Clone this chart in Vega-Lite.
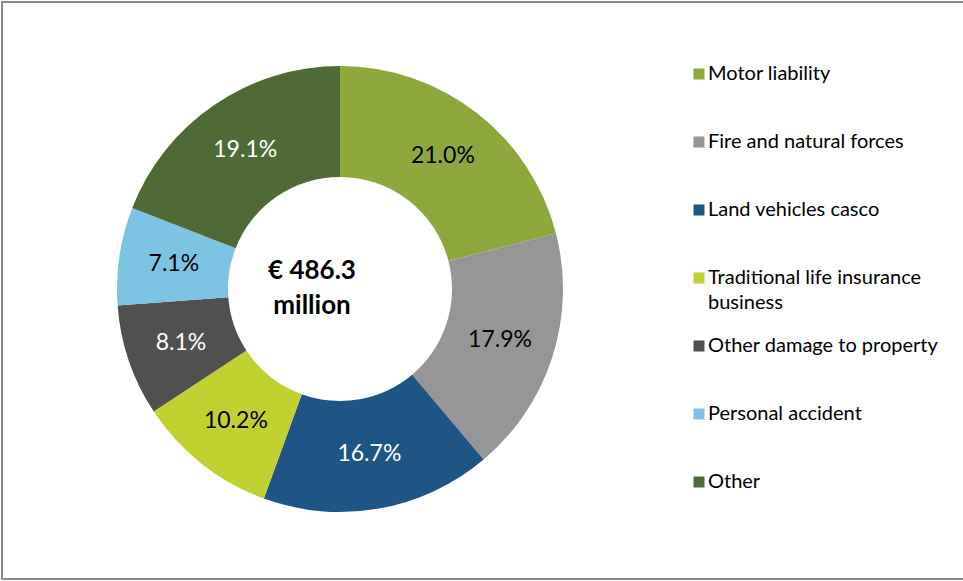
{
  "$schema": "https://vega.github.io/schema/vega-lite/v6.json",
  "autosize": {"type": "none"},
  "width": 962,
  "height": 577,
  "padding": {"left": 2, "top": 2, "right": 0, "bottom": 2},
  "background": "white",
  "view": {"stroke": "#8c8c8c", "strokeWidth": 2},
  "config": {
    "view": {"stroke": "#8c8c8c", "strokeWidth": 2},
    "font": "Lato",
    "legend": {
      "labelFont": "Lato",
      "labelFontSize": 20,
      "labelColor": "#000000",
      "labelLimit": 400,
      "symbolType": "square",
      "symbolSize": 121,
      "symbolStrokeWidth": 0,
      "symbolOpacity": 1,
      "labelOffset": -1,
      "rowPadding": 23
    },
    "style": {"guide-label": {"lineHeight": 25}}
  },
  "data": {
    "values": [
      {"category": "Motor liability", "share": 0.210, "order": 1},
      {"category": "Fire and natural forces", "share": 0.179, "order": 2},
      {"category": "Land vehicles casco", "share": 0.167, "order": 3},
      {"category": "Traditional life insurance business", "share": 0.102, "order": 4},
      {"category": "Other damage to property", "share": 0.081, "order": 5},
      {"category": "Personal accident", "share": 0.071, "order": 6},
      {"category": "Other", "share": 0.191, "order": 7}
    ]
  },
  "layer": [
    {
      "mark": {"type": "arc", "innerRadius": 112, "outerRadius": 223, "x": 338, "y": 287},
      "encoding": {
        "theta": {"field": "share", "type": "quantitative", "stack": true},
        "order": {"field": "order", "type": "quantitative"},
        "color": {
          "field": "category",
          "type": "nominal",
          "scale": {
            "domain": ["Motor liability", "Fire and natural forces", "Land vehicles casco", "Traditional life insurance business", "Other damage to property", "Personal accident", "Other"],
            "range": ["#8fa83e", "#969696", "#1f5585", "#c0d130", "#505050", "#7dc3e3", "#4f6a37"]
          },
          "legend": {
            "title": null,
            "orient": "none",
            "legendX": 687,
            "legendY": 62,
            "labelExpr": "datum.label == 'Traditional life insurance business' ? ['Traditional life insurance', 'business'] : [datum.label, '']"
          }
        }
      }
    },
    {
      "mark": {"type": "text", "radius": 168, "x": 338, "y": 287, "font": "Lato", "fontSize": 23, "align": "center", "baseline": "middle"},
      "encoding": {
        "theta": {"field": "share", "type": "quantitative", "stack": true},
        "order": {"field": "order", "type": "quantitative"},
        "text": {"field": "share", "type": "quantitative", "format": ".1%"},
        "fill": {
          "field": "category",
          "type": "nominal",
          "scale": {
            "domain": ["Motor liability", "Fire and natural forces", "Land vehicles casco", "Traditional life insurance business", "Other damage to property", "Personal accident", "Other"],
            "range": ["#000000", "#000000", "#ffffff", "#000000", "#ffffff", "#000000", "#ffffff"]
          },
          "legend": null
        }
      }
    },
    {
      "data": {"values": [{"total": "€ 486.3 million"}]},
      "mark": {"type": "text", "x": 310, "y": 277, "font": "Lato", "fontSize": 26, "fontWeight": "bold", "align": "center", "baseline": "alphabetic", "lineHeight": 35, "text": ["€ 486.3", "million"], "fill": "#000000"},
      "encoding": {}
    }
  ]
}
